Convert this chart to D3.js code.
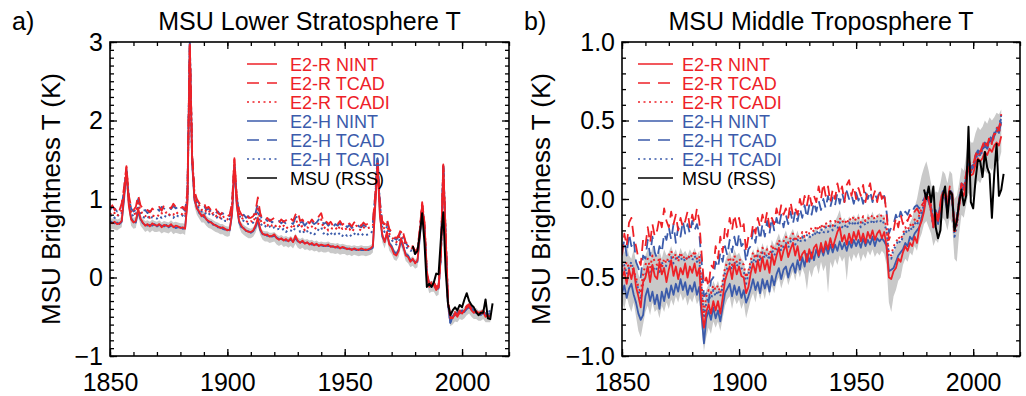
<!DOCTYPE html>
<html>
<head>
<meta charset="utf-8">
<script src="https://cdn.jsdelivr.net/npm/d3@7"></script>
<style>
  body { margin: 0; background: #fff; }
  svg { display: block; font-family: "Liberation Sans", Arial, Helvetica, sans-serif; }
</style>
</head>
<body>
<svg id="chart" width="1026" height="396"></svg>
<script>
// model years 1850..2012, MSU years 1979..2013
const modelYears = d3.range(1850, 2013);
const msuYears = d3.range(1979, 2014);

// ---- panel a: lower stratosphere ----
const aRNint = [
  0.70,0.69,0.71,0.68,0.69,0.72,1.05,1.38,0.92,0.74,
  0.70,0.72,0.88,0.75,0.70,0.66,0.68,0.65,0.69,0.67,
  0.66,0.68,0.64,0.67,0.66,0.65,0.68,0.64,0.66,0.65,
  0.63,0.64,0.62,0.95,2.95,1.50,1.00,0.88,0.84,0.78,
  0.80,0.74,0.72,0.70,0.68,0.66,0.65,0.63,0.64,0.62,
  0.60,0.61,0.82,1.48,0.92,0.72,0.66,0.62,0.60,0.58,
  0.58,0.60,0.66,0.76,0.62,0.56,0.54,0.55,0.52,0.53,
  0.55,0.50,0.48,0.50,0.47,0.49,0.46,0.50,0.45,0.53,
  0.47,0.44,0.47,0.43,0.45,0.42,0.44,0.41,0.43,0.40,
  0.42,0.41,0.40,0.42,0.39,0.40,0.38,0.40,0.37,0.39,
  0.38,0.36,0.37,0.35,0.37,0.36,0.35,0.37,0.36,0.35,
  0.36,0.37,0.40,0.90,1.42,0.78,0.55,0.45,0.58,0.42,
  0.38,0.30,0.28,0.34,0.50,0.40,0.28,0.26,0.20,0.24,
  0.18,0.22,0.55,0.93,0.65,0.02,-0.12,-0.08,-0.10,-0.16,
  -0.12,0.30,1.40,0.55,-0.32,-0.50,-0.52,-0.46,-0.50,-0.44,
  -0.46,-0.42,-0.38,-0.36,-0.42,-0.45,-0.43,-0.47,-0.46,-0.44,
  -0.50,-0.48,-0.50
];
const aRTcad = [
  0.88,0.92,0.86,0.90,0.85,0.95,1.15,1.42,1.05,0.90,
  0.86,0.90,1.05,0.92,0.88,0.84,0.86,0.83,0.88,0.85,
  0.86,0.90,0.85,0.92,0.93,0.91,0.88,0.94,0.90,0.92,
  0.88,0.90,0.86,1.10,2.98,1.60,1.10,1.00,0.95,0.92,
  0.95,0.88,0.90,0.86,0.84,0.88,0.82,0.80,0.83,0.79,
  0.78,0.80,0.95,1.52,1.05,0.86,0.80,0.78,0.82,0.76,
  0.76,0.78,0.85,1.02,0.82,0.74,0.73,0.76,0.72,0.74,
  0.76,0.72,0.70,0.74,0.71,0.73,0.70,0.75,0.72,0.80,
  0.84,0.72,0.74,0.68,0.72,0.69,0.74,0.70,0.73,0.78,
  0.82,0.70,0.72,0.68,0.71,0.66,0.70,0.68,0.72,0.67,
  0.70,0.66,0.69,0.65,0.70,0.72,0.68,0.66,0.70,0.67,
  0.69,0.70,0.72,1.05,1.45,0.95,0.72,0.68,0.75,0.62,
  0.58,0.52,0.50,0.54,0.62,0.56,0.45,0.42,0.38,0.40,
  0.34,0.36,0.62,0.96,0.70,0.08,-0.08,-0.05,-0.06,-0.12,
  -0.10,0.34,1.44,0.58,-0.28,-0.48,-0.50,-0.44,-0.48,-0.42,
  -0.44,-0.40,-0.36,-0.34,-0.40,-0.44,-0.42,-0.45,-0.44,-0.42,
  -0.48,-0.46,-0.46
];
const aRTcadi = [
  0.80,0.84,0.82,0.78,0.82,0.86,1.10,1.40,1.00,0.84,
  0.80,0.82,0.95,0.86,0.80,0.78,0.80,0.76,0.79,0.78,
  0.80,0.78,0.82,0.80,0.83,0.79,0.82,0.80,0.84,0.81,
  0.82,0.80,0.79,1.05,2.96,1.55,1.05,0.96,0.92,0.86,
  0.88,0.84,0.86,0.80,0.82,0.78,0.80,0.76,0.79,0.74,
  0.74,0.76,0.90,1.50,1.00,0.82,0.76,0.74,0.72,0.70,
  0.72,0.70,0.78,0.90,0.74,0.68,0.70,0.66,0.69,0.66,
  0.68,0.64,0.66,0.63,0.66,0.62,0.65,0.66,0.62,0.70,
  0.72,0.63,0.66,0.60,0.64,0.62,0.65,0.61,0.64,0.70,
  0.74,0.62,0.65,0.60,0.63,0.62,0.64,0.60,0.66,0.62,
  0.64,0.60,0.62,0.58,0.62,0.66,0.62,0.60,0.64,0.62,
  0.63,0.64,0.66,1.00,1.45,0.90,0.66,0.62,0.68,0.56,
  0.52,0.48,0.45,0.50,0.58,0.52,0.42,0.40,0.36,0.38,
  0.32,0.34,0.60,0.95,0.68,0.06,-0.10,-0.06,-0.08,-0.14,
  -0.12,0.32,1.42,0.56,-0.30,-0.52,-0.50,-0.46,-0.47,-0.44,
  -0.45,-0.42,-0.38,-0.36,-0.41,-0.43,-0.44,-0.46,-0.45,-0.43,
  -0.49,-0.47,-0.44
];
const aHNint = [
  0.72,0.70,0.69,0.70,0.68,0.71,1.00,1.35,0.95,0.76,
  0.71,0.70,0.84,0.74,0.69,0.67,0.66,0.67,0.66,0.68,
  0.65,0.67,0.66,0.65,0.67,0.64,0.66,0.65,0.63,0.64,
  0.64,0.62,0.63,1.00,2.98,1.45,0.98,0.90,0.82,0.80,
  0.77,0.75,0.70,0.71,0.67,0.67,0.64,0.64,0.62,0.61,
  0.61,0.60,0.80,1.40,0.95,0.70,0.64,0.63,0.59,0.59,
  0.57,0.59,0.64,0.72,0.60,0.55,0.55,0.53,0.53,0.52,
  0.53,0.51,0.49,0.49,0.48,0.47,0.47,0.48,0.46,0.50,
  0.46,0.45,0.45,0.44,0.44,0.43,0.42,0.42,0.42,0.41,
  0.41,0.40,0.41,0.40,0.40,0.39,0.39,0.38,0.38,0.38,
  0.37,0.37,0.36,0.36,0.36,0.35,0.36,0.35,0.35,0.36,
  0.35,0.36,0.38,0.95,1.52,0.82,0.52,0.46,0.55,0.44,
  0.40,0.33,0.30,0.36,0.46,0.38,0.30,0.28,0.22,0.22,
  0.20,0.20,0.50,0.90,0.60,0.00,-0.10,-0.12,-0.08,-0.14,
  -0.14,0.28,1.42,0.50,-0.35,-0.58,-0.50,-0.48,-0.46,-0.46,
  -0.44,-0.44,-0.40,-0.38,-0.40,-0.44,-0.45,-0.45,-0.48,-0.45,
  -0.48,-0.50,-0.48
];
const aHTcad = [
  0.86,0.90,0.88,0.84,0.88,0.92,1.12,1.38,1.02,0.88,
  0.84,0.86,1.00,0.90,0.85,0.86,0.82,0.85,0.84,0.86,
  0.88,0.85,0.90,0.88,0.86,0.90,0.87,0.91,0.88,0.90,
  0.86,0.88,0.85,1.08,2.99,1.55,1.08,0.98,0.94,0.90,
  0.92,0.86,0.88,0.84,0.86,0.82,0.84,0.80,0.82,0.78,
  0.80,0.78,0.92,1.45,1.02,0.84,0.78,0.80,0.76,0.78,
  0.74,0.77,0.82,0.95,0.80,0.72,0.75,0.72,0.74,0.70,
  0.73,0.70,0.72,0.69,0.72,0.68,0.71,0.70,0.68,0.76,
  0.78,0.70,0.71,0.66,0.70,0.67,0.71,0.68,0.70,0.74,
  0.76,0.68,0.70,0.66,0.69,0.64,0.68,0.66,0.69,0.65,
  0.68,0.64,0.67,0.63,0.66,0.69,0.65,0.64,0.67,0.65,
  0.66,0.68,0.70,1.05,1.55,0.98,0.70,0.66,0.72,0.60,
  0.56,0.50,0.48,0.52,0.58,0.54,0.44,0.40,0.36,0.38,
  0.32,0.34,0.58,0.92,0.66,0.05,-0.08,-0.10,-0.06,-0.12,
  -0.12,0.30,1.44,0.54,-0.32,-0.55,-0.48,-0.46,-0.44,-0.44,
  -0.42,-0.42,-0.38,-0.36,-0.38,-0.42,-0.43,-0.44,-0.46,-0.43,
  -0.46,-0.48,-0.45
];
const aHTcadi = [
  0.78,0.80,0.76,0.80,0.78,0.82,1.05,1.36,0.98,0.82,
  0.78,0.80,0.92,0.82,0.77,0.76,0.78,0.74,0.77,0.76,
  0.75,0.78,0.76,0.79,0.77,0.80,0.78,0.76,0.80,0.78,
  0.77,0.79,0.76,1.02,2.97,1.50,1.02,0.92,0.88,0.84,
  0.85,0.80,0.82,0.78,0.80,0.76,0.77,0.74,0.76,0.72,
  0.72,0.74,0.88,1.42,0.98,0.80,0.74,0.72,0.70,0.68,
  0.68,0.70,0.74,0.85,0.70,0.65,0.66,0.63,0.65,0.62,
  0.64,0.61,0.62,0.60,0.62,0.58,0.61,0.60,0.58,0.64,
  0.66,0.58,0.60,0.56,0.59,0.55,0.58,0.55,0.57,0.62,
  0.64,0.56,0.58,0.54,0.57,0.53,0.56,0.54,0.57,0.53,
  0.56,0.53,0.55,0.52,0.55,0.58,0.54,0.53,0.56,0.54,
  0.55,0.56,0.60,1.00,1.52,0.92,0.64,0.58,0.65,0.52,
  0.48,0.44,0.42,0.46,0.52,0.48,0.40,0.36,0.34,0.35,
  0.30,0.32,0.56,0.92,0.64,0.04,-0.10,-0.10,-0.07,-0.13,
  -0.13,0.30,1.42,0.52,-0.34,-0.57,-0.49,-0.47,-0.45,-0.45,
  -0.43,-0.43,-0.39,-0.37,-0.39,-0.43,-0.44,-0.45,-0.47,-0.44,
  -0.47,-0.49,-0.40
];
const aBandLo = [
  0.60,0.62,0.61,0.60,0.62,0.64,0.95,1.25,0.85,0.66,
  0.62,0.63,0.78,0.66,0.62,0.58,0.60,0.57,0.60,0.58,
  0.58,0.59,0.56,0.58,0.57,0.56,0.59,0.55,0.57,0.56,
  0.55,0.56,0.54,0.88,2.85,1.38,0.90,0.80,0.75,0.70,
  0.70,0.66,0.63,0.62,0.60,0.58,0.57,0.55,0.55,0.53,
  0.52,0.53,0.74,1.35,0.85,0.64,0.57,0.54,0.52,0.50,
  0.50,0.52,0.57,0.66,0.54,0.48,0.46,0.46,0.44,0.45,
  0.46,0.42,0.40,0.42,0.39,0.40,0.38,0.40,0.37,0.43,
  0.38,0.36,0.38,0.35,0.36,0.34,0.35,0.33,0.34,0.32,
  0.33,0.32,0.32,0.33,0.31,0.31,0.30,0.31,0.29,0.30,
  0.30,0.28,0.29,0.27,0.29,0.28,0.27,0.28,0.28,0.27,
  0.28,0.29,0.32,0.82,1.35,0.70,0.45,0.37,0.48,0.34,
  0.30,0.23,0.21,0.26,0.40,0.31,0.21,0.18,0.13,0.15,
  0.11,0.13,0.45,0.84,0.55,-0.07,-0.20,-0.18,-0.18,-0.24,
  -0.22,0.20,1.30,0.45,-0.42,-0.62,-0.60,-0.56,-0.57,-0.53,
  -0.54,-0.52,-0.48,-0.46,-0.50,-0.53,-0.53,-0.55,-0.55,-0.53,
  -0.57,-0.57,-0.57
];
const aBandHi = [
  0.76,0.75,0.76,0.74,0.75,0.78,1.10,1.42,0.98,0.80,
  0.76,0.77,0.92,0.80,0.75,0.72,0.73,0.71,0.74,0.72,
  0.71,0.73,0.70,0.72,0.71,0.70,0.73,0.70,0.71,0.70,
  0.69,0.69,0.68,1.02,3.02,1.58,1.05,0.94,0.89,0.84,
  0.84,0.79,0.76,0.75,0.73,0.71,0.70,0.68,0.68,0.66,
  0.65,0.65,0.86,1.52,0.99,0.76,0.70,0.67,0.65,0.63,
  0.62,0.64,0.70,0.80,0.66,0.60,0.59,0.59,0.57,0.57,
  0.58,0.55,0.53,0.54,0.52,0.53,0.51,0.53,0.50,0.56,
  0.51,0.49,0.51,0.48,0.49,0.47,0.48,0.46,0.47,0.45,
  0.46,0.45,0.45,0.46,0.44,0.44,0.43,0.44,0.42,0.43,
  0.42,0.41,0.41,0.40,0.41,0.40,0.40,0.41,0.40,0.40,
  0.40,0.41,0.44,0.98,1.55,0.86,0.58,0.50,0.61,0.47,
  0.43,0.36,0.33,0.38,0.52,0.43,0.33,0.31,0.25,0.27,
  0.23,0.25,0.58,0.97,0.68,0.06,-0.06,-0.04,-0.05,-0.10,
  -0.08,0.34,1.46,0.58,-0.28,-0.46,-0.46,-0.42,-0.42,-0.40,
  -0.40,-0.38,-0.34,-0.32,-0.36,-0.40,-0.39,-0.42,-0.41,-0.40,
  -0.44,-0.44,-0.42
];
const aMsu = [
  0.40,0.30,0.34,0.55,0.82,0.44,-0.12,-0.08,-0.12,-0.06,
  0.05,0.04,0.50,0.83,0.10,-0.33,-0.48,-0.42,-0.38,-0.42,
  -0.35,-0.38,-0.28,-0.20,-0.30,-0.35,-0.38,-0.44,-0.48,-0.45,
  -0.45,-0.28,-0.52,-0.53,-0.33
];

// ---- panel b: middle troposphere ----
const bRNint = [
  -0.50,-0.46,-0.54,-0.45,-0.51,-0.44,-0.56,-0.62,-0.69,-0.53,
  -0.50,-0.43,-0.53,-0.42,-0.49,-0.51,-0.40,-0.48,-0.44,-0.53,
  -0.45,-0.39,-0.49,-0.43,-0.51,-0.44,-0.48,-0.41,-0.50,-0.43,
  -0.47,-0.41,-0.49,-0.44,-0.70,-0.82,-0.72,-0.67,-0.73,-0.65,
  -0.71,-0.65,-0.73,-0.63,-0.52,-0.47,-0.43,-0.51,-0.41,-0.48,
  -0.43,-0.49,-0.50,-0.60,-0.56,-0.47,-0.41,-0.47,-0.39,-0.46,
  -0.37,-0.45,-0.39,-0.47,-0.35,-0.42,-0.36,-0.31,-0.39,-0.33,
  -0.29,-0.37,-0.32,-0.28,-0.36,-0.30,-0.39,-0.35,-0.33,-0.40,
  -0.32,-0.38,-0.31,-0.29,-0.36,-0.28,-0.34,-0.27,-0.32,-0.25,
  -0.31,-0.26,-0.21,-0.18,-0.27,-0.23,-0.29,-0.22,-0.28,-0.21,
  -0.26,-0.20,-0.27,-0.22,-0.28,-0.21,-0.25,-0.20,-0.26,-0.22,
  -0.20,-0.25,-0.21,-0.30,-0.50,-0.51,-0.46,-0.44,-0.38,-0.40,
  -0.34,-0.30,-0.33,-0.28,-0.30,-0.24,-0.28,-0.18,-0.14,-0.08,
  0.02,0.00,-0.08,-0.18,-0.12,-0.14,-0.06,0.04,0.02,-0.05,
  0.05,0.02,-0.20,-0.15,-0.05,0.05,0.02,0.10,0.20,0.15,
  0.16,0.22,0.26,0.24,0.26,0.30,0.28,0.32,0.30,0.34,
  0.36,0.34,0.40
];
const bRTcad = [
  -0.36,-0.22,-0.30,-0.15,-0.12,-0.24,-0.30,-0.38,-0.42,-0.26,
  -0.30,-0.18,-0.28,-0.16,-0.24,-0.20,-0.12,-0.18,-0.06,-0.14,
  -0.18,-0.08,-0.16,-0.10,-0.20,-0.12,-0.18,-0.14,-0.08,-0.18,
  -0.10,-0.16,-0.06,-0.14,-0.35,-0.54,-0.50,-0.56,-0.42,-0.44,
  -0.30,-0.38,-0.24,-0.34,-0.18,-0.24,-0.12,-0.20,-0.10,-0.18,
  -0.12,-0.20,-0.16,-0.34,-0.24,-0.26,-0.16,-0.22,-0.12,-0.18,
  -0.10,-0.16,-0.08,-0.18,-0.12,-0.16,-0.06,-0.12,-0.04,-0.10,
  -0.06,-0.12,-0.02,-0.10,-0.06,-0.10,0.00,-0.06,0.02,-0.04,
  0.04,-0.04,0.02,-0.02,0.08,0.00,0.10,0.02,0.08,-0.02,
  0.06,0.00,0.10,0.03,0.08,-0.02,0.09,0.12,0.02,0.08,
  0.00,0.07,0.02,0.09,-0.02,0.06,0.10,0.00,0.05,-0.02,
  0.06,0.00,0.04,-0.10,-0.26,-0.22,-0.20,-0.12,-0.18,-0.10,
  -0.16,-0.12,-0.14,-0.10,-0.12,-0.08,-0.06,-0.09,-0.04,-0.02,
  0.04,0.02,-0.04,-0.14,-0.08,-0.12,-0.02,0.06,0.05,-0.02,
  0.08,0.05,-0.18,-0.12,-0.01,0.10,0.08,0.16,0.26,0.20,
  0.22,0.28,0.32,0.30,0.34,0.38,0.34,0.40,0.36,0.42,
  0.46,0.44,0.54
];
const bRTcadi = [
  -0.42,-0.45,-0.40,-0.44,-0.42,-0.46,-0.50,-0.56,-0.60,-0.48,
  -0.42,-0.38,-0.44,-0.36,-0.40,-0.42,-0.37,-0.44,-0.38,-0.41,
  -0.36,-0.33,-0.38,-0.35,-0.40,-0.34,-0.38,-0.36,-0.39,-0.35,
  -0.37,-0.33,-0.38,-0.36,-0.55,-0.72,-0.62,-0.58,-0.60,-0.55,
  -0.58,-0.55,-0.60,-0.52,-0.44,-0.40,-0.37,-0.42,-0.36,-0.40,
  -0.38,-0.40,-0.42,-0.50,-0.46,-0.39,-0.34,-0.38,-0.33,-0.37,
  -0.31,-0.35,-0.32,-0.36,-0.29,-0.33,-0.30,-0.26,-0.30,-0.27,
  -0.24,-0.28,-0.25,-0.22,-0.27,-0.23,-0.26,-0.21,-0.24,-0.20,
  -0.22,-0.18,-0.21,-0.17,-0.20,-0.16,-0.19,-0.15,-0.18,-0.14,
  -0.17,-0.14,-0.16,-0.12,-0.15,-0.13,-0.16,-0.12,-0.14,-0.11,
  -0.14,-0.12,-0.15,-0.11,-0.14,-0.12,-0.13,-0.10,-0.13,-0.11,
  -0.12,-0.10,-0.13,-0.18,-0.35,-0.36,-0.30,-0.28,-0.24,-0.26,
  -0.22,-0.18,-0.20,-0.16,-0.18,-0.13,-0.15,-0.10,-0.06,-0.03,
  0.03,0.01,-0.06,-0.16,-0.10,-0.13,-0.04,0.05,0.03,-0.04,
  0.06,0.03,-0.22,-0.16,-0.03,0.08,0.06,0.14,0.24,0.18,
  0.20,0.26,0.30,0.28,0.32,0.36,0.33,0.38,0.35,0.40,
  0.44,0.42,0.50
];
const bHNint = [
  -0.60,-0.55,-0.63,-0.57,-0.54,-0.61,-0.66,-0.73,-0.77,-0.74,
  -0.62,-0.57,-0.65,-0.59,-0.67,-0.61,-0.70,-0.59,-0.65,-0.57,
  -0.63,-0.55,-0.61,-0.54,-0.59,-0.51,-0.58,-0.53,-0.61,-0.55,
  -0.59,-0.53,-0.61,-0.56,-0.74,-0.92,-0.76,-0.71,-0.77,-0.69,
  -0.76,-0.71,-0.78,-0.69,-0.60,-0.57,-0.54,-0.62,-0.55,-0.61,
  -0.56,-0.63,-0.58,-0.66,-0.62,-0.57,-0.51,-0.58,-0.53,-0.60,
  -0.51,-0.57,-0.52,-0.59,-0.49,-0.55,-0.48,-0.44,-0.51,-0.45,
  -0.43,-0.50,-0.44,-0.41,-0.47,-0.39,-0.45,-0.37,-0.43,-0.35,
  -0.40,-0.34,-0.39,-0.32,-0.37,-0.31,-0.36,-0.30,-0.35,-0.29,
  -0.34,-0.29,-0.33,-0.27,-0.32,-0.28,-0.33,-0.27,-0.31,-0.26,
  -0.30,-0.26,-0.31,-0.25,-0.30,-0.26,-0.29,-0.24,-0.30,-0.25,
  -0.27,-0.25,-0.27,-0.30,-0.46,-0.45,-0.44,-0.40,-0.36,-0.34,
  -0.32,-0.28,-0.30,-0.24,-0.26,-0.22,-0.20,-0.18,-0.12,-0.06,
  0.02,-0.02,-0.06,-0.14,-0.10,-0.16,-0.08,0.02,0.00,-0.08,
  0.02,-0.01,-0.18,-0.14,-0.02,0.08,0.06,0.14,0.24,0.18,
  0.20,0.26,0.30,0.28,0.32,0.34,0.32,0.38,0.36,0.40,
  0.44,0.42,0.49
];
const bHTcad = [
  -0.34,-0.26,-0.36,-0.22,-0.30,-0.26,-0.40,-0.44,-0.50,-0.36,
  -0.38,-0.26,-0.36,-0.24,-0.34,-0.38,-0.30,-0.34,-0.22,-0.26,
  -0.18,-0.26,-0.16,-0.28,-0.18,-0.24,-0.14,-0.22,-0.16,-0.22,
  -0.14,-0.20,-0.16,-0.22,-0.40,-0.62,-0.60,-0.66,-0.52,-0.50,
  -0.40,-0.44,-0.34,-0.40,-0.30,-0.36,-0.26,-0.34,-0.24,-0.32,
  -0.22,-0.30,-0.28,-0.40,-0.32,-0.30,-0.20,-0.28,-0.18,-0.26,
  -0.16,-0.24,-0.14,-0.22,-0.12,-0.20,-0.12,-0.18,-0.10,-0.18,
  -0.10,-0.16,-0.08,-0.16,-0.08,-0.14,-0.06,-0.12,-0.04,-0.12,
  -0.04,-0.10,-0.02,-0.08,-0.01,-0.07,0.00,-0.06,0.02,-0.05,
  0.01,-0.04,0.04,-0.03,0.04,-0.02,0.05,0.00,0.03,-0.03,
  0.04,-0.01,0.03,-0.03,0.04,0.00,0.05,-0.02,0.03,0.00,
  0.04,0.00,0.02,-0.08,-0.22,-0.18,-0.16,-0.10,-0.14,-0.08,
  -0.12,-0.08,-0.10,-0.06,-0.08,-0.05,-0.04,-0.06,-0.02,0.00,
  0.04,0.01,-0.05,-0.12,-0.07,-0.12,-0.03,0.05,0.04,-0.03,
  0.06,0.04,-0.16,-0.12,0.00,0.10,0.08,0.16,0.25,0.20,
  0.22,0.28,0.31,0.30,0.33,0.36,0.34,0.40,0.38,0.42,
  0.46,0.45,0.52
];
const bHTcadi = [
  -0.46,-0.42,-0.48,-0.44,-0.40,-0.46,-0.52,-0.58,-0.64,-0.54,
  -0.48,-0.44,-0.50,-0.42,-0.46,-0.44,-0.48,-0.40,-0.45,-0.42,
  -0.40,-0.37,-0.41,-0.38,-0.36,-0.39,-0.37,-0.40,-0.36,-0.38,
  -0.39,-0.36,-0.40,-0.38,-0.58,-0.76,-0.66,-0.62,-0.64,-0.58,
  -0.62,-0.58,-0.62,-0.56,-0.47,-0.44,-0.41,-0.45,-0.40,-0.43,
  -0.40,-0.44,-0.46,-0.54,-0.48,-0.42,-0.38,-0.41,-0.36,-0.40,
  -0.34,-0.38,-0.35,-0.39,-0.32,-0.36,-0.33,-0.29,-0.33,-0.30,
  -0.28,-0.31,-0.27,-0.25,-0.29,-0.26,-0.28,-0.24,-0.27,-0.23,
  -0.25,-0.22,-0.24,-0.20,-0.23,-0.19,-0.22,-0.18,-0.21,-0.17,
  -0.20,-0.17,-0.19,-0.15,-0.18,-0.16,-0.19,-0.15,-0.17,-0.14,
  -0.17,-0.15,-0.18,-0.14,-0.17,-0.15,-0.16,-0.13,-0.16,-0.14,
  -0.15,-0.13,-0.16,-0.20,-0.36,-0.38,-0.32,-0.30,-0.26,-0.28,
  -0.24,-0.20,-0.22,-0.18,-0.20,-0.15,-0.17,-0.12,-0.08,-0.04,
  0.02,0.00,-0.08,-0.18,-0.12,-0.15,-0.06,0.03,0.01,-0.06,
  0.04,0.01,-0.24,-0.18,-0.05,0.07,0.05,0.13,0.22,0.17,
  0.19,0.25,0.29,0.27,0.31,0.35,0.32,0.38,0.36,0.41,
  0.45,0.44,0.54
];
const bBandLo = [
  -0.65,-0.70,-0.62,-0.68,-0.72,-0.66,-0.75,-0.84,-0.88,-0.80,
  -0.72,-0.68,-0.74,-0.66,-0.72,-0.70,-0.76,-0.68,-0.72,-0.66,
  -0.70,-0.64,-0.68,-0.62,-0.66,-0.60,-0.65,-0.62,-0.68,-0.63,
  -0.66,-0.61,-0.67,-0.64,-0.82,-0.97,-0.88,-0.82,-0.86,-0.78,
  -0.82,-0.78,-0.84,-0.76,-0.68,-0.64,-0.62,-0.70,-0.63,-0.67,
  -0.64,-0.70,-0.66,-0.76,-0.70,-0.64,-0.60,-0.66,-0.58,-0.64,
  -0.58,-0.64,-0.56,-0.62,-0.55,-0.60,-0.53,-0.50,-0.57,-0.52,
  -0.48,-0.55,-0.50,-0.46,-0.52,-0.45,-0.50,-0.44,-0.48,-0.58,
  -0.45,-0.50,-0.44,-0.42,-0.48,-0.40,-0.46,-0.42,-0.60,-0.40,
  -0.44,-0.38,-0.42,-0.36,-0.40,-0.37,-0.52,-0.36,-0.40,-0.35,
  -0.38,-0.34,-0.40,-0.35,-0.38,-0.33,-0.36,-0.32,-0.37,-0.34,
  -0.36,-0.33,-0.35,-0.42,-0.66,-0.72,-0.62,-0.58,-0.52,-0.50,
  -0.42,-0.38,-0.40,-0.34,-0.36,-0.30,-0.33,-0.26,-0.22,-0.16,
  -0.14,-0.18,-0.22,-0.30,-0.26,-0.28,-0.20,-0.12,-0.14,-0.20,
  -0.12,-0.16,-0.38,-0.40,-0.22,-0.10,-0.12,-0.04,0.04,0.00,
  0.02,0.08,0.12,0.10,0.14,0.18,0.16,0.20,0.18,0.22,
  0.24,0.24,0.30
];
const bBandHi = [
  -0.30,-0.34,-0.28,-0.36,-0.38,-0.32,-0.40,-0.48,-0.52,-0.42,
  -0.36,-0.32,-0.38,-0.30,-0.34,-0.36,-0.33,-0.38,-0.32,-0.36,
  -0.34,-0.30,-0.35,-0.32,-0.37,-0.31,-0.35,-0.33,-0.36,-0.32,
  -0.35,-0.31,-0.36,-0.33,-0.52,-0.66,-0.58,-0.54,-0.58,-0.52,
  -0.56,-0.52,-0.58,-0.50,-0.40,-0.36,-0.33,-0.38,-0.32,-0.36,
  -0.34,-0.38,-0.40,-0.48,-0.44,-0.37,-0.32,-0.36,-0.30,-0.34,
  -0.28,-0.33,-0.29,-0.35,-0.26,-0.30,-0.26,-0.22,-0.27,-0.24,
  -0.20,-0.25,-0.22,-0.19,-0.24,-0.20,-0.26,-0.22,-0.24,-0.26,
  -0.22,-0.24,-0.20,-0.18,-0.22,-0.16,-0.20,-0.15,-0.19,-0.13,
  -0.17,-0.14,-0.11,-0.07,-0.14,-0.12,-0.16,-0.11,-0.14,-0.10,
  -0.13,-0.09,-0.14,-0.10,-0.15,-0.09,-0.12,-0.08,-0.13,-0.10,
  -0.09,-0.11,-0.10,-0.18,-0.36,-0.38,-0.34,-0.30,-0.26,-0.28,
  -0.22,-0.18,-0.21,-0.15,-0.12,-0.05,0.00,0.08,0.15,0.20,
  0.24,0.18,0.10,0.02,0.05,0.04,0.10,0.18,0.16,0.10,
  0.18,0.16,0.00,0.02,0.10,0.20,0.18,0.28,0.40,0.36,
  0.36,0.42,0.46,0.44,0.46,0.50,0.48,0.52,0.50,0.52,
  0.55,0.54,0.57
];
const bMsu = [
  0.06,0.00,0.08,-0.02,0.08,-0.18,-0.25,-0.20,0.02,0.08,
  -0.12,0.05,0.03,-0.20,-0.14,-0.02,0.06,-0.04,0.02,0.46,
  -0.02,-0.06,0.12,0.25,0.24,0.14,0.30,0.20,0.16,-0.12,
  0.16,0.35,0.02,0.06,0.16
];

const legendNames = ["E2-R NINT", "E2-R TCAD", "E2-R TCADI", "E2-H NINT", "E2-H TCAD", "E2-H TCADI", "MSU (RSS)"];

const RED = "#ee2127";
const BLUE = "#3b5bab";
const DASH = "11,7";
const DOT = "2,3.5";

const svg = d3.select("#chart");

function drawPanel(p) {
  const x = d3.scaleLinear().domain([1850, 2020]).range([p.left, p.right]);
  const y = d3.scaleLinear().domain(p.yDomain).range([p.bottom, p.top]);
  const g = svg.append("g");

  const clipId = "clip-" + p.key;
  g.append("clipPath").attr("id", clipId)
    .append("rect")
    .attr("x", p.left).attr("y", p.top)
    .attr("width", p.right - p.left).attr("height", p.bottom - p.top);

  const plot = g.append("g").attr("clip-path", `url(#${clipId})`);

  // grey spread
  const area = d3.area()
    .x((d, i) => x(modelYears[i]))
    .y0(d => y(d[0]))
    .y1(d => y(d[1]));
  plot.append("path")
    .datum(p.bandLo.map((v, i) => [v, p.bandHi[i]]))
    .attr("d", area)
    .attr("fill", "#c9c9c9");

  const line = d3.line()
    .x(d => x(d[0]))
    .y(d => y(d[1]));

  // blue first, red on top
  const series = [
    { v: p.hTcad, color: BLUE, dash: DASH },
    { v: p.hTcadi, color: BLUE, dash: DOT },
    { v: p.hNint, color: BLUE, dash: null },
    { v: p.rTcad, color: RED, dash: DASH },
    { v: p.rTcadi, color: RED, dash: DOT },
    { v: p.rNint, color: RED, dash: null }
  ];
  series.forEach(s => {
    plot.append("path")
      .datum(s.v.map((v, i) => [modelYears[i], v]))
      .attr("d", line)
      .attr("fill", "none")
      .attr("stroke", s.color)
      .attr("stroke-width", s.dash === DOT ? 2 : 1.8)
      .attr("stroke-dasharray", s.dash)
      .attr("stroke-linejoin", "round");
  });

  plot.append("path")
    .datum(p.msu.map((v, i) => [msuYears[i], v]))
    .attr("d", line)
    .attr("fill", "none")
    .attr("stroke", "#000")
    .attr("stroke-width", 2)
    .attr("stroke-linejoin", "round");

  // axes: ticks point inward on all four sides
  const xMajor = [1850, 1900, 1950, 2000];
  const xMinor = d3.range(1850, 2021, 10);
  const yMinor = d3.range(p.yDomain[0], p.yDomain[1] + 1e-9, 0.1).map(v => +v.toFixed(2));

  const axes = [
    { a: d3.axisBottom(x).tickValues(xMajor).tickSize(-7).tickPadding(17).tickFormat(d3.format("d")), t: `translate(0,${p.bottom})` },
    { a: d3.axisBottom(x).tickValues(xMinor).tickSize(-4).tickFormat(""), t: `translate(0,${p.bottom})` },
    { a: d3.axisTop(x).tickValues(xMajor).tickSize(-7).tickFormat(""), t: `translate(0,${p.top})` },
    { a: d3.axisTop(x).tickValues(xMinor).tickSize(-4).tickFormat(""), t: `translate(0,${p.top})` },
    { a: d3.axisLeft(y).tickValues(p.yMajor).tickSize(-7).tickPadding(7).tickFormat(p.fmt), t: `translate(${p.left},0)` },
    { a: d3.axisLeft(y).tickValues(yMinor).tickSize(-4).tickFormat(""), t: `translate(${p.left},0)` },
    { a: d3.axisRight(y).tickValues(p.yMajor).tickSize(-7).tickFormat(""), t: `translate(${p.right},0)` },
    { a: d3.axisRight(y).tickValues(yMinor).tickSize(-4).tickFormat(""), t: `translate(${p.right},0)` }
  ];
  axes.forEach(ax => {
    const sel = g.append("g").attr("transform", ax.t).call(ax.a.tickSizeOuter(0));
    sel.select(".domain").remove();
    sel.selectAll("line").attr("stroke", "#000").attr("stroke-width", 1.3);
    sel.selectAll("text")
      .attr("fill", "#000")
      .style("font-size", "25px")
      .style("font-family", "'Liberation Sans', Arial, sans-serif");
  });

  g.append("rect")
    .attr("x", p.left).attr("y", p.top)
    .attr("width", p.right - p.left).attr("height", p.bottom - p.top)
    .attr("fill", "none")
    .attr("stroke", "#000")
    .attr("stroke-width", 1.6);

  // labels
  g.append("text")
    .attr("x", p.letterX).attr("y", 30)
    .style("font-size", "25px")
    .text(p.letter);

  g.append("text")
    .attr("x", (p.left + p.right) / 2).attr("y", 30)
    .attr("text-anchor", "middle")
    .style("font-size", "25px")
    .text(p.title);

  g.append("text")
    .attr("transform", `translate(${p.ylabelX},${(p.top + p.bottom) / 2}) rotate(-90)`)
    .attr("text-anchor", "middle")
    .style("font-size", "26px")
    .text("MSU Brightness T (K)");

  // legend
  const legStyles = [
    { color: RED, dash: null }, { color: RED, dash: DASH }, { color: RED, dash: DOT },
    { color: BLUE, dash: null }, { color: BLUE, dash: DASH }, { color: BLUE, dash: DOT },
    { color: "#000", dash: null }
  ];
  legendNames.forEach((name, i) => {
    const cy = 64 + i * 19;
    g.append("line")
      .attr("x1", p.legX0).attr("x2", p.legX1)
      .attr("y1", cy).attr("y2", cy)
      .attr("stroke", legStyles[i].color)
      .attr("stroke-width", 1.5)
      .attr("stroke-dasharray", legStyles[i].dash === DASH ? "12,8" : legStyles[i].dash);
    g.append("text")
      .attr("x", p.legText).attr("y", cy + 6.5)
      .attr("fill", legStyles[i].color)
      .style("font-size", "18px")
      .text(name);
  });
}

drawPanel({
  key: "a", letter: "a)", letterX: 12, title: "MSU Lower Stratosphere T",
  left: 110, right: 509, top: 42, bottom: 356,
  yDomain: [-1, 3], yMajor: [-1, 0, 1, 2, 3], fmt: d3.format("d"),
  ylabelX: 60, legX0: 247, legX1: 277, legText: 290,
  rNint: aRNint, rTcad: aRTcad, rTcadi: aRTcadi,
  hNint: aHNint, hTcad: aHTcad, hTcadi: aHTcadi,
  bandLo: aBandLo, bandHi: aBandHi, msu: aMsu
});

drawPanel({
  key: "b", letter: "b)", letterX: 524, title: "MSU Middle Troposphere T",
  left: 622, right: 1020, top: 42, bottom: 356,
  yDomain: [-1, 1], yMajor: [-1, -0.5, 0, 0.5, 1], fmt: d3.format(".1f"),
  ylabelX: 550, legX0: 638, legX1: 673, legText: 682,
  rNint: bRNint, rTcad: bRTcad, rTcadi: bRTcadi,
  hNint: bHNint, hTcad: bHTcad, hTcadi: bHTcadi,
  bandLo: bBandLo, bandHi: bBandHi, msu: bMsu
});
</script>
</body>
</html>
